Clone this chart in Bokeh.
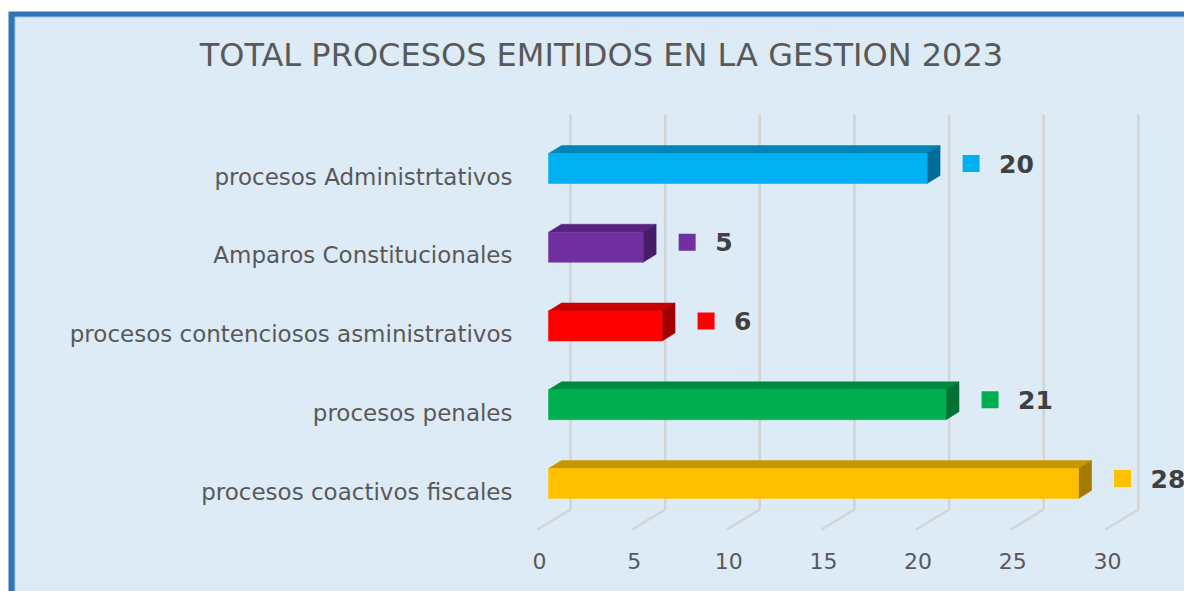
from bokeh.plotting import figure
from bokeh.models import Range1d
from bokeh.embed import file_html
from bokeh.resources import INLINE
from bokeh.core.properties import value

# ---------------- data ----------------
categories = [
    "procesos coactivos fiscales",
    "procesos penales",
    "procesos contenciosos asministrativos",
    "Amparos Constitucionales",
    "procesos Administrtativos",
]
counts = [28, 21, 6, 5, 20]
front_colors = ["#FFC000", "#00B050", "#FF0000", "#7030A0", "#00B0F0"]
top_colors = ["#C89600", "#008A3E", "#C80000", "#56237E", "#0085B8"]
side_colors = ["#A47B00", "#007034", "#A00000", "#471C69", "#006D98"]
ticks = [0, 5, 10, 15, 20, 25, 30]
title_text = "TOTAL PROCESOS  EMITIDOS EN LA GESTION 2023"

# ---------------- geometry ----------------
W, H = 1184, 591
PXX = 18.93      # pixels per unit of value
PXY = 78.75      # pixels per category step
X0_PX = 548      # pixel of value 0
Y0_PX = 483      # pixel (from top) of first category centre
x_start = -X0_PX / PXX
x_end = x_start + W / PXX
y_end = Y0_PX / PXY
y_start = y_end - H / PXY


def dx(px):
    return px / PXX


def dy(px):
    return px / PXY


def fx(px):  # pixel -> data x
    return x_start + px / PXX


def fy(py):  # pixel (from top) -> data y
    return y_end - py / PXY


p = figure(width=W, height=H, x_range=Range1d(x_start, x_end),
           y_range=Range1d(y_start, y_end), output_backend="svg",
           toolbar_location=None, min_border=0)
p.axis.visible = False
p.grid.visible = False
p.outline_line_color = None
p.background_fill_color = "white"
p.border_fill_color = "white"

# frame / background of the slide
p.quad(left=fx(8), right=fx(1200), top=fy(11), bottom=fy(610),
       fill_color="#2E75B6", line_color=None)
p.quad(left=fx(14), right=fx(1200), top=fy(16), bottom=fy(610),
       fill_color="#9DC3E6", line_color=None)
p.quad(left=fx(15), right=fx(1200), top=fy(17), bottom=fy(610),
       fill_color="#DDEBF7", line_color=None)

# gridlines (back wall + floor)
back = [t + dx(22) for t in ticks]
front = [t + dx(-11) for t in ticks]
p.segment(x0=back, y0=[fy(114)] * len(ticks), x1=back, y1=[fy(509)] * len(ticks),
          line_color="#D4D4D4", line_width=2.5)
p.segment(x0=back, y0=[fy(509)] * len(ticks), x1=front, y1=[fy(529)] * len(ticks),
          line_color="#D4D4D4", line_width=2.5)

# bars (3D)
ys = list(range(len(categories)))
h = dy(30)
ddx, ddy = dx(13), dy(8)
tops = [y + h / 2 for y in ys]
bots = [y - h / 2 for y in ys]
p.patches(xs=[[0, v, v + ddx, ddx] for v in counts],
          ys=[[t, t, t + ddy, t + ddy] for t in tops],
          fill_color=top_colors, line_color=top_colors, line_width=0.5)
p.patches(xs=[[v, v, v + ddx, v + ddx] for v in counts],
          ys=[[b, t, t + ddy, b + ddy] for b, t in zip(bots, tops)],
          fill_color=side_colors, line_color=side_colors, line_width=0.5)
p.quad(left=[0] * len(counts), right=counts, bottom=bots, top=tops,
       fill_color=front_colors, line_color=front_colors, line_width=0.5)

# data labels
p.scatter(x=[v + dx(44) for v in counts], y=[y + dy(5) for y in ys],
          marker="square", size=17, fill_color=front_colors, line_color=None)
p.text(x=[v + dx(72) for v in counts], y=[y + dy(5) for y in ys],
       text=[str(v) for v in counts], text_font=value("DejaVu Sans"),
       text_font_style="bold", text_font_size="25px", text_color="#404040",
       text_align="left", text_baseline="middle")

# category labels
p.text(x=[fx(512)] * len(categories), y=[y - dy(8) for y in ys], text=categories,
       text_font=value("DejaVu Sans"), text_font_size="23px", text_color="#595959",
       text_align="right", text_baseline="middle")

# tick labels
p.text(x=[t + dx(-9) for t in ticks], y=[fy(560)] * len(ticks),
       text=[str(t) for t in ticks], text_font=value("DejaVu Sans"),
       text_font_size="22px", text_color="#595959",
       text_align="center", text_baseline="middle")

# title
p.text(x=[fx(606)], y=[fy(54)], text=[title_text], text_font=value("DejaVu Sans"),
       text_font_size="32px", text_color="#595959",
       text_align="center", text_baseline="middle")

open("out.html", "w").write(file_html(p, INLINE))
